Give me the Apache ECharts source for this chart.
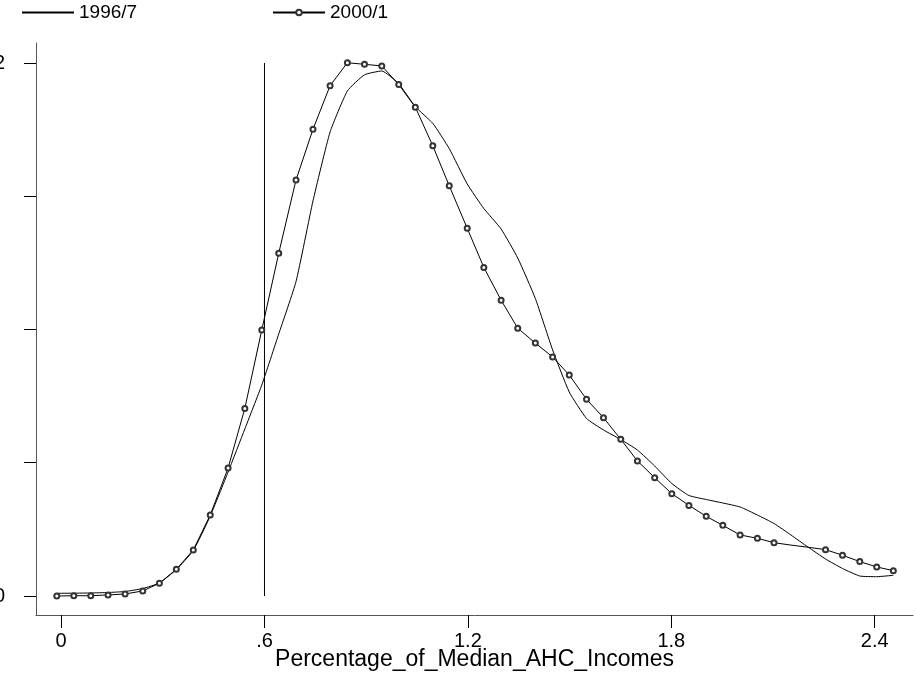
<!DOCTYPE html>
<html>
<head>
<meta charset="utf-8">
<script src="https://cdn.jsdelivr.net/npm/echarts@6/dist/echarts.min.js"></script>
<style>
html,body{margin:0;padding:0;background:#fff;}
#chart{width:916px;height:675px;}
</style>
</head>
<body>
<div id="chart"></div>
<script>
// Evaluation grid (Percentage of median AHC income)
const xValues = [-0.0127, 0.0375, 0.0876, 0.1386, 0.1888, 0.241, 0.29, 0.34, 0.39, 0.44,
  0.4926, 0.542, 0.592, 0.642, 0.693, 0.743, 0.7935, 0.8445, 0.895, 0.946,
  0.996, 1.045, 1.0965, 1.145, 1.198, 1.247, 1.298, 1.347, 1.399, 1.450,
  1.499, 1.550, 1.600, 1.651, 1.700, 1.751, 1.8015, 1.852, 1.903, 1.952,
  2.003, 2.054, 2.103, 2.153, 2.203, 2.255, 2.305, 2.356, 2.406, 2.455];
// Kernel density 1996/7
const density1996 = [0.0101, 0.0105, 0.0113, 0.0131, 0.0169, 0.0281, 0.0488, 0.0994, 0.1707, 0.3002,
  0.4653, 0.6266, 0.7917, 0.9831, 1.1797, 1.4822, 1.7411, 1.8949, 1.9557, 1.9700,
  1.9223, 1.8360, 1.7734, 1.6788, 1.5460, 1.4540, 1.3771, 1.2683, 1.1163, 0.9231,
  0.7655, 0.6660, 0.6229, 0.5872, 0.5478, 0.4878, 0.4221, 0.3771, 0.3621, 0.3490,
  0.3340, 0.3039, 0.2720, 0.2289, 0.1839, 0.1388, 0.1032, 0.0750, 0.0724, 0.0777];
// Kernel density 2000/1
const density2000 = [0.000, 0.001, 0.001, 0.004, 0.0075, 0.019, 0.048, 0.100, 0.173, 0.304,
  0.480, 0.704, 0.998, 1.286, 1.561, 1.751, 1.915, 2.001, 1.995, 1.989,
  1.919, 1.834, 1.689, 1.539, 1.380, 1.233, 1.110, 1.005, 0.949, 0.897,
  0.829, 0.738, 0.669, 0.588, 0.507, 0.444, 0.384, 0.340, 0.299, 0.265,
  0.229, 0.2165, 0.200, 0.191, 0.183, 0.174, 0.153, 0.129, 0.109, 0.095];
// points of 2000/1 drawn without a marker in the original
const unmarked2000 = [43, 44];
const seriesNames = ['1996/7', '2000/1'];
const xTicks = [0, 0.6, 1.2, 1.8, 2.4];
const xTickLabels = ['0', '.6', '1.2', '1.8', '2.4'];
const yTicks = [0, 0.5, 1, 1.5, 2];
const yLabelValues = [0, 2];
const yLabelTexts = ['0', '2'];
const povertyLine = 0.6;
const povertyLineY = [0, 2];
const xTitle = 'Percentage_of_Median_AHC_Incomes';

const FONT = '"Liberation Sans", Arial, Helvetica, sans-serif';
function lookup(vals, labels, v) {
  for (let i = 0; i < vals.length; i++) if (Math.abs(vals[i] - v) < 1e-6) return labels[i];
  return '';
}

const data1996 = xValues.map((x, i) => [x, density1996[i]]);
const data2000 = xValues.map((x, i) => unmarked2000.includes(i)
  ? { value: [x, density2000[i]], symbol: 'none' }
  : [x, density2000[i]]);
const vline = povertyLineY.map(y => [povertyLine, y]);

const legendText = { fontFamily: FONT, fontSize: 19, color: '#000' };
const chart = echarts.init(document.getElementById('chart'), null, { renderer: 'canvas' });
chart.setOption({
  animation: false,
  backgroundColor: '#fff',
  textStyle: { fontFamily: FONT },
  grid: { left: 36, right: 3, top: 43, bottom: 60, containLabel: false, outerBoundsMode: 'none' },
  legend: [
    { data: [{ name: seriesNames[0], itemStyle: { opacity: 0 } }], left: 21, top: 3, padding: 0,
      itemWidth: 52, itemHeight: 8, itemGap: 0, textStyle: legendText },
    { data: [seriesNames[1]], left: 272, top: 3, padding: 0,
      itemWidth: 52, itemHeight: 7, itemGap: 0, textStyle: legendText }
  ],
  xAxis: {
    type: 'value', min: -0.074, max: 2.513,
    name: xTitle, nameLocation: 'middle', nameGap: 33, nameMoveOverlap: false,
    nameTextStyle: { fontFamily: FONT, fontSize: 23, color: '#000' },
    axisLine: { show: true, onZero: false, lineStyle: { color: '#555', width: 1 } },
    axisTick: { show: true, customValues: xTicks, length: 13, lineStyle: { color: '#000' } },
    axisLabel: { customValues: xTicks, margin: 16, fontSize: 20, color: '#000', fontFamily: FONT,
      formatter: v => lookup(xTicks, xTickLabels, v) },
    splitLine: { show: false }
  },
  yAxis: {
    type: 'value', min: -0.0713, max: 2.075,
    axisLine: { show: true, onZero: false, lineStyle: { color: '#555', width: 1 } },
    axisTick: { show: true, customValues: yTicks, length: 12, lineStyle: { color: '#000' } },
    axisLabel: { customValues: yLabelValues, margin: 31, fontSize: 20, color: '#000', fontFamily: FONT,
      formatter: v => lookup(yLabelValues, yLabelTexts, v) },
    splitLine: { show: false }
  },
  series: [
    { name: seriesNames[0], type: 'line', data: data1996, symbol: 'none', smooth: 0.15,
      lineStyle: { color: '#000', width: 1 }, itemStyle: { color: '#000' } },
    { name: seriesNames[1], type: 'line', data: data2000, symbol: 'emptyCircle', symbolSize: 5,
      lineStyle: { color: '#000', width: 1 }, itemStyle: { color: '#333', borderColor: '#333', borderWidth: 0.8 } },
    { name: 'poverty line', type: 'line', data: vline, symbol: 'none',
      lineStyle: { color: '#000', width: 1 }, silent: true }
  ]
});
</script>
</body>
</html>
